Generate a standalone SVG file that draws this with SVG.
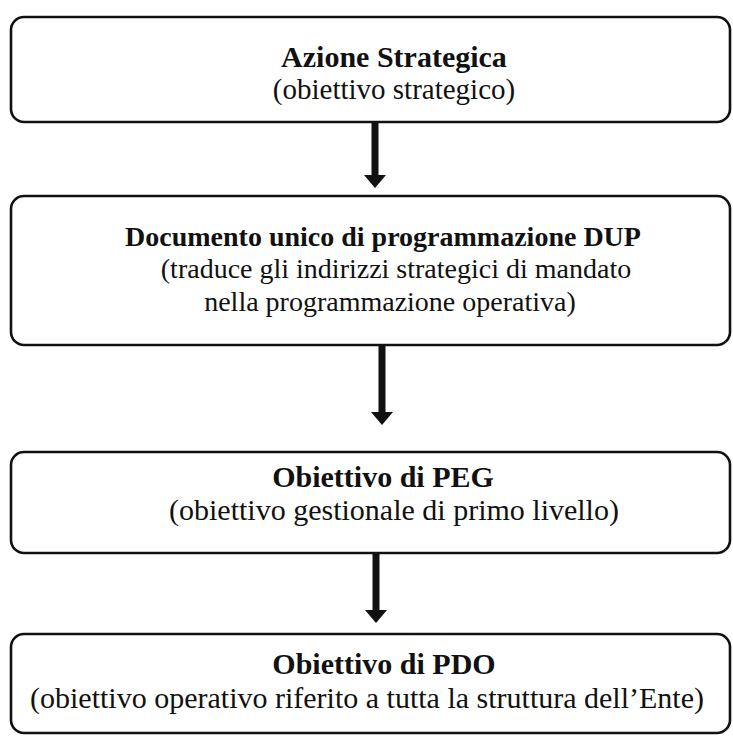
<svg xmlns="http://www.w3.org/2000/svg" width="733" height="736" viewBox="0 0 733 736">
<style>
.box{fill:#fff;stroke:#111;stroke-width:2.6}
.t{font-family:"Liberation Serif","Times New Roman",serif;font-size:30px;fill:#111;text-anchor:middle}
.b{font-weight:bold}
.m{font-size:28px}
.arr{stroke:#111;stroke-width:7;fill:none}
</style>
<defs>
<marker id="ah" markerUnits="userSpaceOnUse" markerWidth="13" markerHeight="22" refX="0" refY="11" orient="auto">
<path d="M0,0 L13,11 L0,22 z" fill="#111"/>
</marker>
</defs>
<rect width="733" height="736" fill="#fff"/>
<g id="connectors">
<line class="arr" x1="375" y1="122" x2="375" y2="175" marker-end="url(#ah)"/>
<line class="arr" x1="382" y1="345" x2="382" y2="412" marker-end="url(#ah)"/>
<line class="arr" x1="376" y1="553" x2="376" y2="610" marker-end="url(#ah)"/>
</g>
<g id="n1">
<rect class="box" x="11" y="17" width="719" height="105" rx="13"/>
<text class="t b" x="394" y="67">Azione Strategica</text>
<text class="t" x="394" y="99" style="font-size:29px">(obiettivo strategico)</text>
</g>
<g id="n2">
<rect class="box" x="11" y="196" width="719" height="149" rx="13"/>
<text class="t b m" x="383" y="246">Documento unico di programmazione DUP</text>
<text class="t m" x="396" y="278">(traduce gli indirizzi strategici di mandato</text>
<text class="t m" x="390" y="311">nella programmazione operativa)</text>
</g>
<g id="n3">
<rect class="box" x="11" y="452" width="719" height="101" rx="13"/>
<text class="t b" x="383" y="487">Obiettivo di PEG</text>
<text class="t" x="394" y="520">(obiettivo gestionale di primo livello)</text>
</g>
<g id="n4">
<rect class="box" x="11" y="634" width="719" height="99" rx="13"/>
<text class="t b" x="384" y="674">Obiettivo di PDO</text>
<text class="t" x="367" y="708">(obiettivo operativo riferito a tutta la struttura dell’Ente)</text>
</g>
</svg>
